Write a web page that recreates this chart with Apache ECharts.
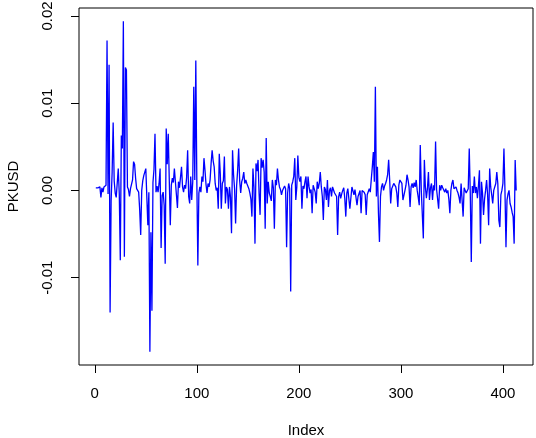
<!DOCTYPE html>
<html><head><meta charset="utf-8">
<script src="https://cdn.jsdelivr.net/npm/echarts@6/dist/echarts.min.js"></script>
<style>html,body{margin:0;padding:0;background:#fff}#c{width:536px;height:438px}</style>
</head><body><div id="c"></div>
<script>
const pkusd = [
0.0003,0.0002,0.0003,0.0001,0.0004,-0.0008,0.0003,-0.0002,0.0004,0.0002,
0.0006,0.0172,-0.0004,0.0144,-0.0140,-0.0012,0.0021,0.0078,0.0011,-0.0003,
-0.0008,-0.0010,0.0025,-0.0004,-0.0080,0.0063,0.0048,0.0194,-0.0076,0.0141,
0.0138,0.0004,0.0001,-0.0007,0.0002,0.0004,0.0012,0.0033,0.0030,0.0014,0.0002,
0.0003,-0.0002,-0.0022,-0.0051,0.0000,0.0011,0.0017,0.0021,0.0025,0.0025,-0.0040,
-0.0002,-0.0185,-0.0048,-0.0138,0.0009,0.0024,0.0065,-0.0002,0.0005,-0.0002,
0.0008,0.0025,-0.0066,-0.0006,-0.0002,-0.0017,-0.0084,0.0071,0.0030,0.0065,
0.0012,-0.0040,0.0006,0.0014,0.0009,0.0025,0.0023,-0.0005,-0.0020,0.0010,0.0003,
0.0005,0.0027,0.0004,-0.0002,0.0006,0.0002,0.0015,0.0046,-0.0007,-0.0015,
0.0016,-0.0011,0.0010,0.0119,0.0012,0.0149,0.0012,-0.0086,-0.0003,0.0004,
-0.0002,0.0016,0.0010,0.0037,0.0023,0.0007,-0.0003,0.0008,0.0004,0.0012,0.0031,
0.0046,0.0034,0.0027,0.0008,0.0000,0.0003,-0.0021,0.0042,0.0019,-0.0021,
0.0008,0.0011,0.0039,-0.0015,0.0004,0.0001,-0.0021,0.0004,-0.0008,-0.0049,
0.0046,0.0018,0.0002,-0.0038,0.0005,0.0023,0.0048,0.0011,-0.0003,0.0010,
0.0014,0.0021,0.0008,0.0012,0.0008,0.0006,0.0002,-0.0003,-0.0010,-0.0030,0.0025,
0.0004,-0.0061,0.0031,0.0022,0.0035,-0.0003,-0.0028,0.0037,0.0026,0.0035,
0.0021,-0.0044,0.0060,-0.0015,0.0010,-0.0003,-0.0007,-0.0012,0.0012,0.0003,
-0.0044,0.0012,0.0006,0.0025,0.0012,0.0004,0.0001,-0.0005,0.0000,0.0002,0.0005,
0.0002,-0.0065,-0.0003,0.0008,0.0002,-0.0116,0.0006,0.0010,0.0016,0.0037,
-0.0011,0.0004,0.0040,0.0015,0.0010,0.0016,-0.0021,0.0005,0.0002,0.0010,
0.0016,-0.0009,0.0016,0.0004,-0.0003,0.0001,-0.0026,0.0006,0.0004,-0.0002,-0.0015,
0.0010,0.0002,0.0008,0.0021,0.0004,-0.0007,-0.0034,0.0004,0.0001,-0.0011,
0.0012,-0.0019,0.0000,0.0003,-0.0007,0.0004,0.0002,-0.0003,-0.0001,-0.0007,
-0.0051,-0.0007,-0.0002,-0.0009,-0.0004,0.0000,0.0003,-0.0009,-0.0030,-0.0003,0.0002,
0.0000,-0.0021,-0.0023,0.0004,0.0004,-0.0005,0.0001,0.0000,-0.0017,-0.0007,
-0.0005,0.0000,-0.0026,0.0000,-0.0002,-0.0002,-0.0005,-0.0028,-0.0005,-0.0003,
0.0002,-0.0002,0.0013,0.0027,0.0044,0.0010,0.0119,-0.0007,0.0027,-0.0026,
-0.0059,-0.0007,0.0004,0.0008,0.0000,0.0005,0.0008,0.0012,0.0018,0.0035,0.0012,
-0.0015,0.0002,0.0004,0.0008,0.0006,0.0004,-0.0003,-0.0019,0.0006,0.0012,
0.0014,0.0008,-0.0011,-0.0012,0.0000,0.0006,0.0018,0.0012,0.0004,-0.0019,
0.0004,0.0008,0.0003,0.0009,0.0004,0.0012,0.0000,-0.0008,-0.0017,0.0052,0.0000,
-0.0002,-0.0055,0.0035,0.0004,-0.0009,0.0002,0.0021,-0.0011,0.0003,0.0008,
-0.0011,0.0006,0.0000,0.0056,0.0001,0.0000,-0.0021,0.0006,0.0000,0.0006,
0.0003,0.0002,-0.0002,0.0002,-0.0003,0.0000,-0.0010,-0.0026,0.0000,0.0008,0.0012,
0.0002,0.0000,0.0004,0.0000,-0.0003,-0.0008,-0.0015,0.0008,0.0010,-0.0030,
0.0003,0.0000,-0.0003,-0.0002,0.0002,0.0048,-0.0003,-0.0082,0.0005,-0.0003,
0.0016,-0.0003,0.0004,-0.0009,0.0005,0.0023,-0.0061,0.0010,-0.0003,-0.0028,-0.0010,
0.0000,0.0012,-0.0005,-0.0040,0.0025,0.0004,-0.0005,-0.0015,0.0000,0.0002,
0.0008,0.0021,0.0008,-0.0034,-0.0042,-0.0005,0.0000,0.0008,0.0048,0.0000,
-0.0065,-0.0011,-0.0004,0.0000,-0.0015,-0.0019,-0.0025,-0.0030,-0.0061,0.0035,
0.0000
];
const xTicks = [0, 100, 200, 300, 400];
const yTicks = [-0.01, 0, 0.01, 0.02];
const yTickLabels = ['-0.01', '0.00', '0.01', '0.02'];
const xTitle = 'Index';
const yTitle = 'PKUSD';

const n = pkusd.length;
const lo = Math.min(...pkusd), hi = Math.max(...pkusd);
const xMin = 1 - 0.04 * (n - 1), xMax = n + 0.04 * (n - 1);
const yMin = lo - 0.04 * (hi - lo), yMax = hi + 0.04 * (hi - lo);
const font = 'Liberation Sans, Arial, sans-serif';

const chart = echarts.init(document.getElementById('c'), null, {renderer: 'canvas'});
chart.setOption({
  animation: false,
  backgroundColor: '#fff',
  grid: {left: 79, right: 3, top: 8, bottom: 73, show: true, borderColor: '#000', borderWidth: 1,
         backgroundColor: 'transparent', containLabel: false, outerBoundsMode: 'none'},
  xAxis: {
    type: 'value', min: xMin, max: xMax,
    axisLine: {show: false, onZero: false},
    splitLine: {show: false},
    axisTick: {show: true, inside: false, length: 8, customValues: xTicks, lineStyle: {color: '#000', width: 1}},
    axisLabel: {customValues: xTicks, margin: 21, fontSize: 15, color: '#000', fontFamily: font},
    name: xTitle, nameLocation: 'middle', nameGap: 58,
    nameTextStyle: {fontSize: 15, color: '#000', fontFamily: font}
  },
  yAxis: {
    type: 'value', min: yMin, max: yMax,
    axisLine: {show: false, onZero: false},
    splitLine: {show: false},
    axisTick: {show: true, inside: false, length: 8, customValues: yTicks, lineStyle: {color: '#000', width: 1}},
    axisLabel: {
      customValues: yTicks, margin: 24, rotate: 90, fontSize: 15, color: '#000', fontFamily: font,
      formatter: function (v) { const i = yTicks.findIndex(t => Math.abs(t - v) < 1e-9); return i >= 0 ? yTickLabels[i] : ''; }
    },
    name: yTitle, nameLocation: 'middle', nameGap: 58, nameRotate: 90,
    nameTextStyle: {fontSize: 15, color: '#000', fontFamily: font}
  },
  series: [{
    type: 'line',
    data: pkusd.map((v, i) => [i + 1, v]),
    showSymbol: false,
    symbol: 'none',
    lineStyle: {color: '#0000FF', width: 1.3},
    clip: true
  }]
});
</script>
</body></html>
